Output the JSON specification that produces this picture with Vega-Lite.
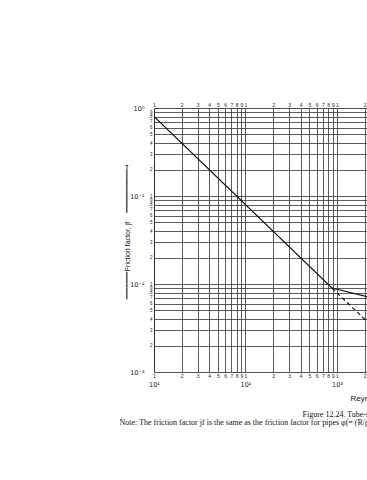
{
  "$schema": "https://vega.github.io/schema/vega-lite/v6.json",
  "width": 213,
  "height": 264,
  "autosize": {"type": "none"},
  "padding": {"left": 154, "top": 108, "right": 0, "bottom": 108},
  "background": "white",
  "config": {
    "view": {"stroke": null},
    "axis": {"labelFont": "Liberation Sans", "labelColor": "#222", "domainColor": "#222", "tickColor": "#222", "titleColor": "#111", "labelOverlap": false, "labelFlush": false, "labelBound": false}
  },
  "datasets": {
    "solid": [
      {"Re": 10, "jf": 0.8},
      {"Re": 880, "jf": 0.0090},
      {"Re": 2128, "jf": 0.0072}
    ],
    "dashed": [
      {"Re": 880, "jf": 0.0090},
      {"Re": 2100, "jf": 0.0038}
    ]
  },
  "resolve": {"axis": {"x": "independent", "y": "independent"}},
  "layer": [
    {
      "data": {"name": "solid"},
      "mark": {"type": "line", "color": "#111", "strokeWidth": 1.2, "clip": true},
      "encoding": {
        "x": {
          "field": "Re", "type": "quantitative",
          "scale": {"type": "log", "domain": [10, 2128], "nice": false},
          "axis": {
            "orient": "bottom",
            "values": [10,20,30,40,50,60,70,80,90,100,200,300,400,500,600,700,800,900,1000,2000],
            "labelExpr": "slice(format(datum.value, '.0e'), 0, 1)",
            "labelFontSize": 5, "labelPadding": 1, "tickSize": 0,
            "grid": true, "gridColor": "#333", "gridWidth": 0.8,
            "domain": true, "domainWidth": 0.8,
            "title": "Note: The friction factor jf is the same as the friction factor for pipes φ(= (R/ρu²)), defined in Volume 1.",
            "titleX": -35, "titleY": 52, "titleAlign": "left", "titleBaseline": "alphabetic",
            "titleFont": "Liberation Serif", "titleFontWeight": "normal", "titleFontSize": 8
          }
        },
        "y": {
          "field": "jf", "type": "quantitative",
          "scale": {"type": "log", "domain": [0.001, 1], "nice": false},
          "axis": {
            "orient": "left",
            "values": [0.002,0.003,0.004,0.005,0.006,0.007,0.008,0.009,0.01,0.02,0.03,0.04,0.05,0.06,0.07,0.08,0.09,0.1,0.2,0.3,0.4,0.5,0.6,0.7,0.8,0.9],
            "labelExpr": "slice(format(datum.value, '.0e'), 0, 1)",
            "labelFontSize": 4.5, "labelPadding": 2, "tickSize": 0,
            "grid": true, "gridColor": "#333", "gridWidth": 0.8,
            "domain": true, "domainWidth": 0.8,
            "title": "━━━━━━━━━━━→",
            "titleX": -27.2, "titleY": 80, "titleAngle": 270, "titleAlign": "center", "titleBaseline": "middle",
            "titleFont": "DejaVu Sans", "titleFontWeight": "bold", "titleFontSize": 6.5
          }
        }
      }
    },
    {
      "data": {"name": "dashed"},
      "mark": {"type": "line", "color": "#111", "strokeWidth": 1.2, "strokeDash": [4, 3], "clip": true},
      "encoding": {
        "x": {
          "field": "Re", "type": "quantitative",
          "axis": {
            "orient": "top",
            "values": [10,20,30,40,50,60,70,80,90,100,200,300,400,500,600,700,800,900,1000,2000],
            "labelExpr": "slice(format(datum.value, '.0e'), 0, 1)",
            "labelFontSize": 5, "labelPadding": 1, "tickSize": 0,
            "grid": false, "domain": true, "domainWidth": 0.8,
            "title": "Figure 12.24.  Tube-side heat-transfer factor",
            "titleX": 148, "titleY": 308, "titleAlign": "left", "titleBaseline": "alphabetic",
            "titleFont": "Liberation Serif", "titleFontWeight": "normal", "titleFontSize": 8
          }
        },
        "y": {
          "field": "jf", "type": "quantitative",
          "axis": {
            "orient": "left",
            "values": [0.001, 0.01, 0.1, 1],
            "labelExpr": "datum.value >= 1 ? '10⁰' : datum.value >= 0.1 ? '10⁻¹' : datum.value >= 0.01 ? '10⁻²' : '10⁻³'",
            "labelFont": "DejaVu Sans", "labelFontSize": 6.5, "labelPadding": 10, "tickSize": 0,
            "grid": false, "domain": false,
            "title": "Friction factor, jf",
            "titleX": -27, "titleY": 138, "titleAngle": 270, "titleAlign": "center", "titleBaseline": "middle",
            "titleFont": "Liberation Sans", "titleFontWeight": "normal", "titleFontSize": 7
          }
        }
      }
    },
    {
      "data": {"name": "solid"},
      "mark": {"type": "point", "opacity": 0},
      "encoding": {
        "x": {
          "field": "Re", "type": "quantitative",
          "axis": {
            "orient": "bottom",
            "values": [10, 100, 1000],
            "labelExpr": "datum.value >= 1000 ? '10³' : datum.value >= 100 ? '10²' : '10¹'",
            "labelFont": "DejaVu Sans", "labelFontSize": 6.5, "labelPadding": 9, "tickSize": 0,
            "grid": false, "domain": false,
            "title": "Reynolds number, Re",
            "titleX": 196, "titleY": 28, "titleAlign": "left", "titleBaseline": "alphabetic",
            "titleFont": "Liberation Sans", "titleFontWeight": "normal", "titleFontSize": 8
          }
        },
        "y": {
          "field": "jf", "type": "quantitative",
          "axis": {
            "orient": "left",
            "labels": false, "ticks": false, "domain": false, "grid": false,
            "title": "━━━━━━━",
            "titleX": -27.2, "titleY": 177, "titleAngle": 270, "titleAlign": "center", "titleBaseline": "middle",
            "titleFont": "DejaVu Sans", "titleFontWeight": "bold", "titleFontSize": 6.5
          }
        }
      }
    }
  ]
}
